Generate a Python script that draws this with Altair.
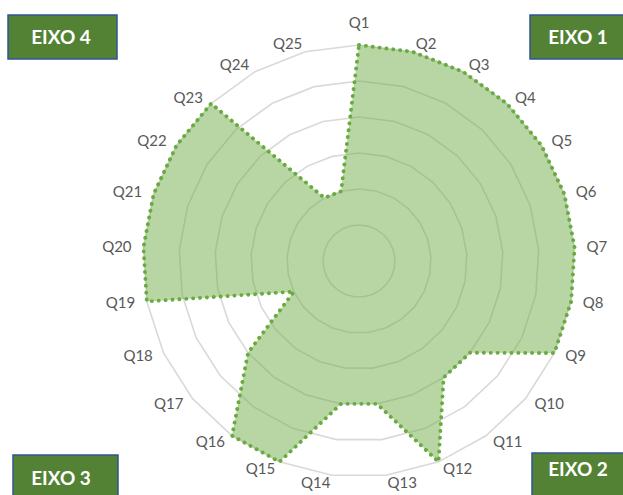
import altair as alt
import pandas as pd

# Radar of question scores (scale 0-6), grouped in four axes (EIXO 1-4)
questions = ["Q1", "Q2", "Q3", "Q4", "Q5", "Q6", "Q7", "Q8", "Q9", "Q10",
             "Q11", "Q12", "Q13", "Q14", "Q15", "Q16", "Q17", "Q18", "Q19",
             "Q20", "Q21", "Q22", "Q23", "Q24", "Q25"]
scores = [6, 6, 6, 6, 6, 6, 6, 6, 6, 4,
          4, 6, 4, 4, 6, 6, 4, 2, 6,
          6, 6, 6, 6, 2, 2]
levels = [1, 2, 3, 4, 5, 6]
eixos = ["EIXO 1", "EIXO 2", "EIXO 3", "EIXO 4"]

W, H = 623, 495
CX, CY, UNIT = 359, 261, 36.0  # centre (px) and pixels per score unit

n = len(questions)
pts = pd.DataFrame({"q": questions, "idx": list(range(n)), "score": scores})
grid = pd.DataFrame(
    [{"level": lv, "idx": i} for lv in levels for i in range(n)]
)

xs = alt.Scale(domain=[-CX / UNIT, (W - CX) / UNIT], nice=False, zero=False)
ys = alt.Scale(domain=[-(H - CY) / UNIT, CY / UNIT], nice=False, zero=False)

ang = f"2*PI*datum.idx/{n}"

rings = (
    alt.Chart(grid)
    .transform_calculate(a=ang)
    .transform_calculate(gx="datum.level*sin(datum.a)", gy="datum.level*cos(datum.a)")
    .mark_line(interpolate="linear-closed", stroke="#d9d9d9", strokeWidth=1.6)
    .encode(
        x=alt.X("gx:Q", scale=xs, axis=None),
        y=alt.Y("gy:Q", scale=ys, axis=None),
        detail="level:N",
        order="idx:Q",
    )
)

area = (
    alt.Chart(pts)
    .transform_calculate(a=ang)
    .transform_calculate(px="datum.score*sin(datum.a)", py="datum.score*cos(datum.a)")
    .mark_line(
        interpolate="linear-closed",
        fill="#70ad47",
        fillOpacity=0.5,
        stroke="#6aab40",
        strokeWidth=3.9,
        strokeDash=[0.1, 6.8],
        strokeCap="round",
    )
    .encode(
        x=alt.X("px:Q", scale=xs, axis=None),
        y=alt.Y("py:Q", scale=ys, axis=None),
        order="idx:Q",
    )
)

label_base = (
    alt.Chart(pts)
    .transform_calculate(a=ang)
    .transform_calculate(s="sin(datum.a)", c="cos(datum.a)")
    .transform_calculate(
        lx="6.33*datum.s",
        ly="abs(datum.s) < 0.01 ? 6.62 : 6.22*datum.c",
    )
)

def label_layer(cond, align):
    return (
        label_base.transform_filter(cond)
        .mark_text(align=align, baseline="middle", font="Lato",
                   fontSize=15, color="#595959")
        .encode(
            x=alt.X("lx:Q", scale=xs, axis=None),
            y=alt.Y("ly:Q", scale=ys, axis=None),
            text="q:N",
        )
    )

labels = (
    label_layer("datum.s > 0.01", "left")
    + label_layer("datum.s < -0.01", "right")
    + label_layer("abs(datum.s) <= 0.01", "center")
)

# Axis badges in the four corners
badge_layout = {
    "EIXO 1": dict(x=530, x2=630, y=15, y2=59, tx=578, ty=38),
    "EIXO 2": dict(x=532, x2=630, y=453, y2=500, tx=578, ty=470),
    "EIXO 3": dict(x=13, x2=118, y=455, y2=500, tx=61, ty=479),
    "EIXO 4": dict(x=8, x2=117, y=15, y2=59, tx=61, ty=38),
}
badges = []
for name in eixos:
    b = badge_layout[name]
    src = alt.Chart(pd.DataFrame({"eixo": [name]}))
    badges.append(
        src.mark_rect(fill="#548235", stroke="#2f5597", strokeWidth=1.5).encode(
            x=alt.value(b["x"]), x2=alt.value(b["x2"]),
            y=alt.value(b["y"]), y2=alt.value(b["y2"]),
        )
    )
    badges.append(
        src.mark_text(font="Lato", fontSize=19, fontWeight="bold", color="white",
                      align="center", baseline="middle").encode(
            x=alt.value(b["tx"]), y=alt.value(b["ty"]), text="eixo:N"
        )
    )

chart = alt.layer(rings, area, labels, *badges).properties(
    width=W, height=H, padding=0, autosize=alt.AutoSizeParams(type="none")
).configure_view(stroke=None)

chart.save("out.html", embed_options={"renderer": "svg", "actions": False})
